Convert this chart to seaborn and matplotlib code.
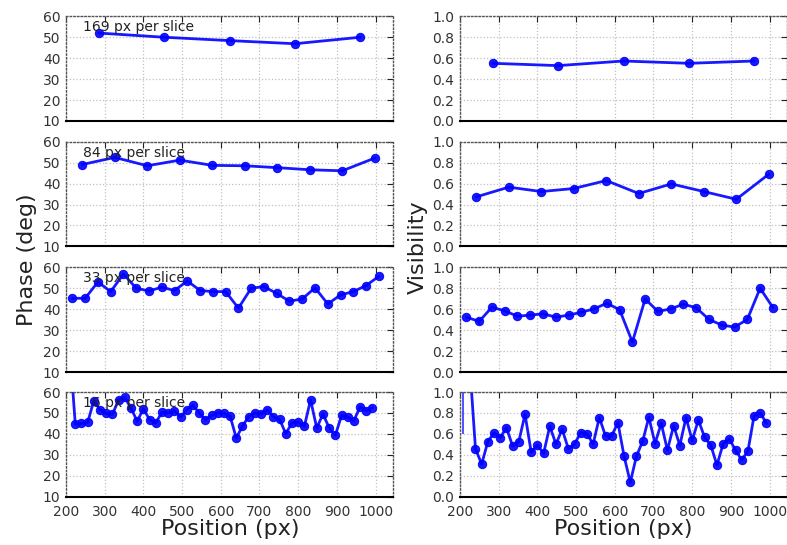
import matplotlib
matplotlib.use("Agg")
import matplotlib.pyplot as plt
import seaborn as sns
import pandas as pd

# ---- data ----
slice_labels = ["169 px per slice", "84 px per slice", "33 px per slice", "16 px per slice"]

x169 = [284.5, 453.5, 622.5, 791.5, 960.5]
phase169 = [52.0, 50.0, 48.4, 46.9, 50.0]
vis169 = [0.551, 0.529, 0.573, 0.551, 0.573]

x84 = [242, 326, 410, 494, 578, 662, 746, 830, 914, 998]
phase84 = [49.1, 52.5, 48.5, 51.2, 48.7, 48.5, 47.6, 46.6, 46.1, 52.2]
vis84 = [0.473, 0.566, 0.524, 0.553, 0.629, 0.505, 0.597, 0.524, 0.450, 0.690]

x33 = [216.5, 249.5, 282.5, 315.5, 348.5, 381.5, 414.5, 447.5, 480.5, 513.5,
       546.5, 579.5, 612.5, 645.5, 678.5, 711.5, 744.5, 777.5, 810.5, 843.5,
       876.5, 909.5, 942.5, 975.5, 1008.5]
phase33 = [45.2, 45.2, 53.0, 48.4, 56.8, 50.0, 48.7, 50.5, 48.9, 53.5,
           48.9, 48.4, 48.4, 40.5, 50.0, 50.8, 47.5, 43.8, 44.9, 50.2,
           42.5, 46.8, 48.4, 51.3, 55.7]
vis33 = [0.524, 0.483, 0.619, 0.584, 0.533, 0.543, 0.556, 0.524, 0.543, 0.571,
         0.603, 0.657, 0.594, 0.286, 0.698, 0.578, 0.603, 0.648, 0.613, 0.502,
         0.448, 0.429, 0.502, 0.800, 0.616]

x16 = [208, 224, 240, 256, 272, 288, 304, 320, 336, 352,
       368, 384, 400, 416, 432, 448, 464, 480, 496, 512,
       528, 544, 560, 576, 592, 608, 624, 640, 656, 672,
       688, 704, 720, 736, 752, 768, 784, 800, 816, 832,
       848, 864, 880, 896, 912, 928, 944, 960, 976, 992]
phase16 = [85.0, 44.7, 45.0, 45.5, 55.9, 51.5, 49.8, 49.3, 56.3, 57.4,
           52.3, 46.0, 52.0, 46.8, 45.2, 50.4, 50.0, 51.1, 48.0, 51.5,
           53.6, 50.1, 46.8, 48.8, 50.1, 49.8, 48.5, 38.0, 43.7, 48.2,
           50.0, 49.5, 51.5, 48.2, 46.9, 40.1, 45.3, 45.6, 43.7, 56.2,
           42.8, 49.5, 42.9, 39.3, 48.8, 48.0, 46.3, 53.0, 51.1, 52.5]
vis16 = [2.0, 1.32, 0.457, 0.311, 0.527, 0.61, 0.565, 0.66, 0.483, 0.527,
         0.787, 0.425, 0.492, 0.413, 0.673, 0.502, 0.644, 0.457, 0.502, 0.613,
         0.603, 0.502, 0.756, 0.581, 0.581, 0.708, 0.387, 0.137, 0.387, 0.53,
         0.759, 0.508, 0.70, 0.444, 0.679, 0.489, 0.756, 0.537, 0.733, 0.568,
         0.492, 0.302, 0.505, 0.552, 0.444, 0.352, 0.435, 0.775, 0.8, 0.70]

# visible error bars on visibility points: (row, x, value, error)
vis_err_x = [[], [], [249.5], [208]]
vis_err_y = [[], [], [0.483], [2.0]]
vis_err_e = [[], [], [0.03], [1.4]]

xs = [x169, x84, x33, x16]
phases = [phase169, phase84, phase33, phase16]
viss = [vis169, vis84, vis33, vis16]

phase_ticks = [10, 20, 30, 40, 50, 60]
vis_ticks = [0.0, 0.2, 0.4, 0.6, 0.8, 1.0]
x_ticks = [200, 300, 400, 500, 600, 700, 800, 900, 1000]

# ---- style ----
sns.set_style("white")
plt.rcParams.update({
    "font.family": ["DejaVu Sans"],
    "xtick.direction": "in",
    "ytick.direction": "in",
    "xtick.color": "#222222",
    "ytick.color": "#222222",
    "xtick.labelcolor": "#333333",
    "ytick.labelcolor": "#333333",
    "xtick.major.size": 4,
    "ytick.major.size": 4,
    "xtick.labelsize": 10,
    "ytick.labelsize": 10,
})

fig = plt.figure(figsize=(7.87, 5.45), dpi=100)
W, H = 787.0, 545.0
col_left = [66 / W, 460 / W]
col_w = 327 / W
row_tops = [16.3, 141.7, 267.3, 392.0]
row_h = 104.7

blue = "#0000ff"

for r in range(4):
    for c in range(2):
        bottom = 1 - (row_tops[r] + row_h) / H
        ax = fig.add_axes([col_left[c], bottom, col_w, row_h / H])
        yvals = phases[r] if c == 0 else viss[r]
        df = pd.DataFrame({"x": xs[r], "y": yvals})
        sns.lineplot(data=df, x="x", y="y", ax=ax, sort=False, estimator=None,
                     color=blue, lw=2, marker="o", markersize=6,
                     markeredgecolor=blue, markerfacecolor=blue, alpha=0.9)
        if c == 1 and vis_err_x[r]:
            ax.errorbar(vis_err_x[r], vis_err_y[r], yerr=vis_err_e[r], fmt="none",
                        ecolor=blue, elinewidth=1.2, alpha=0.8)
        ax.set_xlim(200, 1045)
        if c == 0:
            ax.set_ylim(10, 60)
            ax.set_yticks(phase_ticks)
            ax.set_yticklabels([str(t) for t in phase_ticks])
            ax.text(0.051, 0.895, slice_labels[r], transform=ax.transAxes,
                    fontsize=10, color="#222222", va="center", ha="left")
        else:
            ax.set_ylim(0, 1.0)
            ax.set_yticks(vis_ticks)
            ax.set_yticklabels([f"{t:.1f}" for t in vis_ticks])
        ax.set_xticks(x_ticks)
        if r == 3:
            ax.set_xticklabels([str(t) for t in x_ticks])
        else:
            ax.set_xticklabels([])
        ax.set_xlabel("")
        ax.set_ylabel("")
        ax.grid(True, linestyle=":", color="#c0c0c0", linewidth=0.9)
        ax.tick_params(top=True, right=True)
        ax.tick_params(axis="x", pad=6)
        ax.tick_params(axis="y", pad=4)
        for side in ["top", "left", "right"]:
            ax.spines[side].set_visible(True)
            ax.spines[side].set_linestyle(":")
            ax.spines[side].set_color("#555555")
            ax.spines[side].set_linewidth(1.0)
        ax.spines["bottom"].set_visible(True)
        ax.spines["bottom"].set_color("black")
        ax.spines["bottom"].set_linewidth(1.5)

fig.text(27 / W, 1 - 260 / H, "Phase (deg)", rotation=90, fontsize=16,
         ha="center", va="center", color="#222222")
fig.text(418 / W, 1 - 247 / H, "Visibility", rotation=90, fontsize=16,
         ha="center", va="center", color="#222222")
fig.text(230 / W, 1 - 529 / H, "Position (px)", fontsize=16,
         ha="center", va="center", color="#222222")
fig.text(623 / W, 1 - 529 / H, "Position (px)", fontsize=16,
         ha="center", va="center", color="#222222")

fig.savefig("out.png", dpi=100)
